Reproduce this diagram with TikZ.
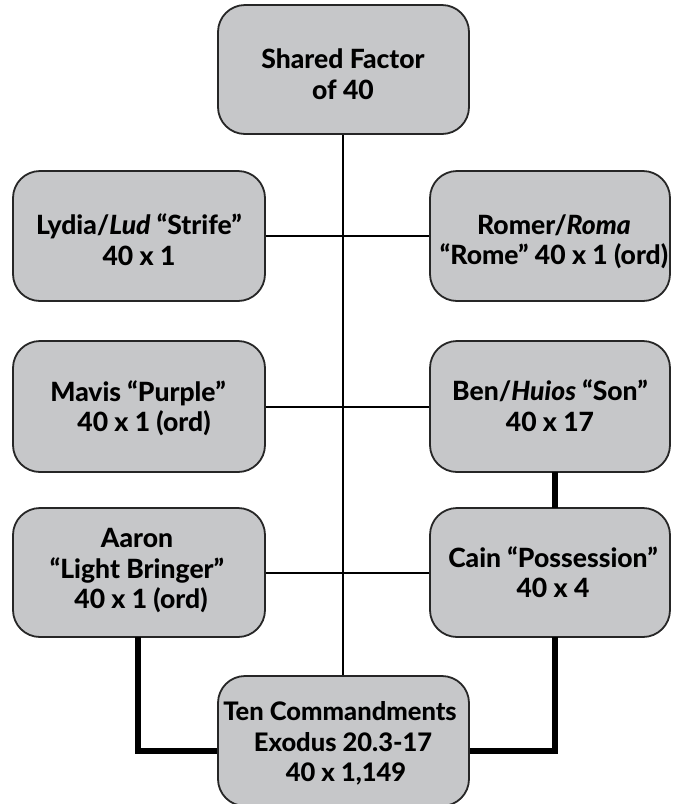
\documentclass[tikz,border=0pt]{standalone}
\usepackage{fontspec}
\setmainfont{Lato}[BoldFont={Lato Heavy}, BoldItalicFont={Lato Heavy Italic}]
\definecolor{boxfill}{HTML}{C6C7C9}
\definecolor{boxline}{HTML}{262626}
\begin{document}
\begin{tikzpicture}[x=1pt,y=1pt,
  box/.style={draw=boxline, line width=1.8pt, fill=boxfill, rounded corners=27pt,
    minimum width=#1, minimum height=130pt, inner sep=0pt},
  box/.default=252pt,
  label/.style={font=\fontsize{26.5}{30.5}\selectfont\bfseries, align=center, inner sep=0pt, text=black},
  thin/.style={line width=2pt, black},
  thick/.style={line width=6.5pt, black}]
\useasboundingbox (0,0) rectangle (673,-804);

% central spine
\coordinate (spine-top) at (343,-125);
\coordinate (spine-bot) at (343,-680);
\draw[thin] (spine-top) -- (spine-bot);

% boxes
\node[box=251pt, minimum height=129pt] (share) at (343.5,-69.5) {};
\node[box] (lydia) at (139,-236) {};
\node[box=240pt] (romer) at (550,-236) {};
\node[box, minimum height=131pt] (mavis) at (139,-406.5) {};
\node[box=240pt, minimum height=131pt] (ben) at (550,-406.5) {};
\node[box, minimum height=129pt] (aaron) at (139,-572.5) {};
\node[box=240pt, minimum height=129pt] (cain) at (550,-572.5) {};

% horizontal links
\draw[thin] (lydia.east) -- (romer.west);
\draw[thin] (mavis.east) -- (ben.west);
\draw[thin] (aaron.east) -- (cain.west);

% heavy links
\coordinate (ben-foot) at (555,-472);
\coordinate (cain-head) at (555,-508);
\coordinate (cain-foot) at (555,-637);
\coordinate (aaron-foot) at (138,-637);
\coordinate (ten-r) at (469,-751);
\coordinate (ten-l) at (218,-751);
\draw[thick] (ben-foot) -- (cain-head);
\draw[thick] (cain-foot) |- (ten-r);
\draw[thick] (aaron-foot) |- (ten-l);

\node[box=251pt, minimum height=130pt] (ten) at (343.5,-741) {};

% texts
\node[label] (share-t) at (343,-74) {Shared Factor\\of 40};
\node[label] (lydia-t) at (139,-239.5) {Lydia/\textit{Lud} “Strife”\\40 x 1};
\node[label] (romer-t) at (554,-242) {Romer/\textit{Roma}\\“Rome” 40 x 1 (ord)};
\node[label] (mavis-t) at (138,-408) {Mavis “Purple”\\\hspace*{12pt}40 x 1 (ord)};
\node[label] (ben-t) at (550,-405.5) {Ben/\textit{Huios} “Son”\\40 x 17};
\node[label] (aaron-t) at (137,-571) {Aaron\\“Light Bringer”\\\hspace*{8pt}40 x 1 (ord)};
\node[label] (cain-t) at (553,-572) {Cain “Possession”\\40 x 4};
\node[label, font=\fontsize{25.5}{30.5}\selectfont\bfseries] (ten-t) at (343,-743.5)
  {Ten Commandments\hspace*{6pt}\\Exodus 20.3-17\\\hspace*{6pt}40 x 1,149};
\end{tikzpicture}
\end{document}
